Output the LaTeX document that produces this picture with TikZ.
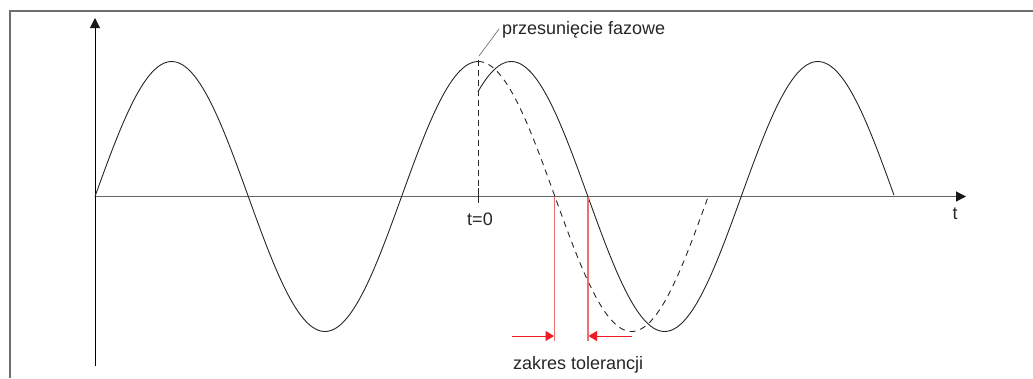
\documentclass[tikz,border=0pt]{standalone}
\usepackage{fontspec}
\setmainfont{Liberation Sans}
\usetikzlibrary{arrows.meta}
\definecolor{framegray}{RGB}{110,110,110}
\definecolor{axisgray}{RGB}{100,100,100}
\definecolor{tolred}{RGB}{237,28,36}
\definecolor{tolline}{RGB}{240,110,110}
\tikzset{
  lbl/.style={inner sep=0pt, font=\fontsize{18}{20}\selectfont, text=black!85},
  wave/.style={line width=0.9pt, black!85},
  dashwave/.style={line width=0.9pt, black!85, dash pattern=on 6pt off 5pt},
  axisarrow/.style={-{Triangle[length=10pt,width=10pt,black!90]}},
  tolarrow/.style={-{Triangle[length=8.5pt,width=10pt]}, tolred, line width=1pt},
  tolmark/.style={tolline, line width=1.2pt},
}
\begin{document}
\begin{tikzpicture}[x=1pt,y=-1pt]
\useasboundingbox (0,0) rectangle (1033,378);
% frame (top and left)
\coordinate (fTR) at (1033,11);
\coordinate (fTL) at (10,11);
\coordinate (fBL) at (10,378);
\draw[framegray, line width=1.3pt] (fTR) -- (fTL) -- (fBL);
% axes
\coordinate (O) at (95,196.5);
\coordinate (ybot) at (95,366);
\coordinate (ytop) at (95,18);
\coordinate (xend) at (966,196.5);
\draw[axisgray, line width=1.2pt, axisarrow] (O) -- (xend);
\draw[black, line width=1pt, axisarrow] (ybot) -- (ytop);
% curves
\draw[wave] plot[domain=95:478, samples=150] (\x, {196.5-135*sin((\x-95)/153.3*180)});
\draw[dashwave] plot[domain=478:708, samples=120] (\x, {196.5-135*sin((\x-95)/153.3*180)});
\draw[wave] plot[domain=478:894, samples=160] (\x, {196.5-135*sin((\x-128)/153.3*180)});
% t=0 marker
\coordinate (pk) at (478,60);
\coordinate (pkax) at (478,188);
\coordinate (tk1) at (478,188);
\coordinate (tk2) at (478,203);
\draw[black!85, line width=0.9pt, dash pattern=on 6pt off 4pt] (pk) -- (pkax);
\draw[black!85, line width=1pt] (tk1) -- (tk2);
\node[lbl, anchor=base] (t0) at (480,225) {t=0};
\node[lbl, anchor=base] (tl) at (955,219) {t};
% phase shift label
\node[lbl, anchor=base west] (ps) at (502,34.5) {przesunięcie fazowe};
\coordinate (lead1) at (479,56);
\coordinate (lead2) at (499,29);
\draw[black!55, line width=0.7pt] (lead1) -- (lead2);
% tolerance
\coordinate (r1t) at (554.5,196.5);
\coordinate (r1b) at (554.5,341);
\coordinate (r2t) at (588,196.5);
\coordinate (r2b) at (588,341);
\draw[tolmark] (r1t) -- (r1b);
\draw[tolmark] (r2t) -- (r2b);
\coordinate (a1s) at (512,336);
\coordinate (a1e) at (554,336);
\coordinate (a2s) at (632,336);
\coordinate (a2e) at (588.5,336);
\draw[tolarrow] (a1s) -- (a1e);
\draw[tolarrow] (a2s) -- (a2e);
\node[lbl, anchor=base west] (zt) at (513,369) {zakres tolerancji};
\end{tikzpicture}
\end{document}
